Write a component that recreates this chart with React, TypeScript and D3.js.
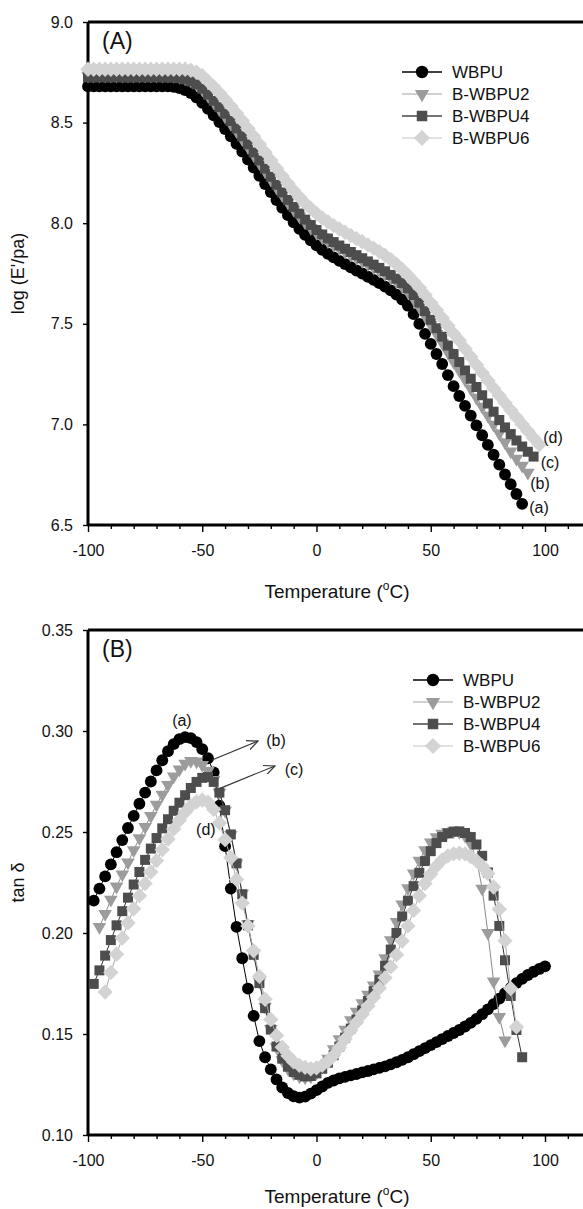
import React, { useEffect, useRef } from 'react';
import * as d3 from 'd3';

// temperature grid (°C) shared by both panels
const temps = [
  -100, -97.5, -95, -92.5, -90, -87.5, -85, -82.5, -80, -77.5,
  -75, -72.5, -70, -67.5, -65, -62.5, -60, -57.5, -55, -52.5,
  -50, -47.5, -45, -42.5, -40, -37.5, -35, -32.5, -30, -27.5,
  -25, -22.5, -20, -17.5, -15, -12.5, -10, -7.5, -5, -2.5,
  0, 2.5, 5, 7.5, 10, 12.5, 15, 17.5, 20, 22.5,
  25, 27.5, 30, 32.5, 35, 37.5, 40, 42.5, 45, 47.5,
  50, 52.5, 55, 57.5, 60, 62.5, 65, 67.5, 70, 72.5,
  75, 77.5, 80, 82.5, 85, 87.5, 90, 92.5, 95, 97.5,
  100,
];

const seriesNames = ['WBPU', 'B-WBPU2', 'B-WBPU4', 'B-WBPU6'];
const curveTags = ['(a)', '(b)', '(c)', '(d)'];

// (A) log(E'/Pa)
const logE_WBPU = [
  8.68, 8.68, 8.68, 8.68, 8.68, 8.68, 8.68, 8.68, 8.68, 8.68,
  8.68, 8.68, 8.68, 8.68, 8.68, 8.678, 8.672, 8.662, 8.647, 8.625,
  8.598, 8.568, 8.536, 8.503, 8.468, 8.432, 8.395, 8.356, 8.316, 8.276,
  8.236, 8.195, 8.155, 8.115, 8.077, 8.04, 8.005, 7.972, 7.942, 7.915,
  7.89, 7.868, 7.848, 7.83, 7.813, 7.797, 7.781, 7.765, 7.75, 7.734,
  7.718, 7.702, 7.685, 7.666, 7.645, 7.62, 7.59, 7.548, 7.5, 7.45,
  7.4, 7.35, 7.3, 7.245, 7.19, 7.141, 7.092, 7.044, 6.995, 6.946,
  6.898, 6.849, 6.8, 6.751, 6.703, 6.654, 6.605,
];
const logE_B2 = [
  8.733, 8.733, 8.733, 8.733, 8.733, 8.733, 8.733, 8.733, 8.733, 8.733,
  8.733, 8.733, 8.733, 8.733, 8.733, 8.732, 8.728, 8.72, 8.708, 8.69,
  8.665, 8.634, 8.6, 8.566, 8.53, 8.494, 8.457, 8.418, 8.378, 8.338,
  8.298, 8.257, 8.217, 8.177, 8.139, 8.102, 8.067, 8.034, 8.004, 7.977,
  7.952, 7.93, 7.91, 7.892, 7.875, 7.859, 7.843, 7.827, 7.812, 7.796,
  7.78, 7.764, 7.747, 7.729, 7.709, 7.686, 7.658, 7.624, 7.583, 7.539,
  7.495, 7.45, 7.405, 7.358, 7.311, 7.268, 7.223, 7.178, 7.133, 7.088,
  7.043, 6.999, 6.955, 6.91, 6.866, 6.83, 6.795, 6.76,
];
const logE_B4 = [
  8.725, 8.725, 8.725, 8.725, 8.725, 8.725, 8.725, 8.725, 8.725, 8.725,
  8.725, 8.725, 8.725, 8.725, 8.725, 8.724, 8.721, 8.715, 8.705, 8.69,
  8.668, 8.639, 8.608, 8.577, 8.544, 8.508, 8.471, 8.432, 8.392, 8.352,
  8.312, 8.271, 8.231, 8.191, 8.153, 8.116, 8.081, 8.048, 8.018, 7.991,
  7.966, 7.944, 7.924, 7.906, 7.889, 7.873, 7.857, 7.841, 7.826, 7.81,
  7.794, 7.778, 7.761, 7.743, 7.724, 7.702, 7.676, 7.643, 7.605, 7.563,
  7.52, 7.478, 7.436, 7.392, 7.35, 7.31, 7.268, 7.227, 7.186, 7.145,
  7.104, 7.063, 7.022, 6.985, 6.952, 6.92, 6.89, 6.864, 6.84,
];
const logE_B6 = [
  8.765, 8.765, 8.765, 8.765, 8.765, 8.765, 8.765, 8.765, 8.765, 8.765,
  8.765, 8.765, 8.765, 8.765, 8.765, 8.765, 8.765, 8.765, 8.76, 8.75,
  8.733, 8.706, 8.678, 8.648, 8.616, 8.582, 8.547, 8.51, 8.471, 8.432,
  8.393, 8.353, 8.313, 8.273, 8.235, 8.198, 8.163, 8.13, 8.1, 8.073,
  8.048, 8.026, 8.006, 7.988, 7.971, 7.955, 7.939, 7.923, 7.908, 7.892,
  7.876, 7.859, 7.84, 7.819, 7.796, 7.77, 7.742, 7.712, 7.68, 7.644,
  7.605, 7.568, 7.53, 7.491, 7.452, 7.417, 7.376, 7.336, 7.296, 7.257,
  7.218, 7.18, 7.143, 7.107, 7.071, 7.036, 7.001, 6.967, 6.933, 6.9,
];

// (B) tan delta
const tan_WBPU = [
  null, 0.216, 0.222, 0.228, 0.234, 0.24, 0.246, 0.252, 0.258, 0.264,
  0.2695, 0.275, 0.2805, 0.2855, 0.29, 0.2935, 0.296, 0.297, 0.2965, 0.2945,
  0.291, 0.2865, 0.2795, 0.263, 0.243, 0.222, 0.203, 0.1875, 0.1725, 0.159,
  0.1465, 0.1385, 0.1325, 0.1275, 0.1235, 0.1208, 0.1192, 0.1185, 0.119, 0.1205,
  0.1222, 0.124, 0.1258, 0.127, 0.128, 0.1288, 0.1295, 0.1302, 0.131, 0.1317,
  0.1325, 0.1332, 0.134, 0.135, 0.136, 0.1372, 0.1385, 0.14, 0.1415, 0.143,
  0.1445, 0.146, 0.1475, 0.149, 0.1505, 0.152, 0.1537, 0.1555, 0.1575, 0.1598,
  0.1622, 0.1648, 0.1675, 0.1702, 0.1728, 0.1752, 0.1773, 0.1792, 0.1808, 0.1822,
  0.1835,
];
const tan_B2 = [
  null, null, 0.203, 0.2095, 0.2165, 0.223, 0.229, 0.235, 0.241, 0.247,
  0.2525, 0.258, 0.2635, 0.2685, 0.2733, 0.2775, 0.281, 0.2838, 0.2852, 0.285,
  0.2832, 0.2802, 0.2758, 0.2695, 0.2605, 0.2485, 0.2345, 0.2195, 0.2045, 0.19,
  0.176, 0.1635, 0.1525, 0.1435, 0.137, 0.1328, 0.1305, 0.129, 0.1285, 0.129,
  0.1308, 0.1338, 0.1378, 0.1425, 0.1475, 0.1522, 0.1568, 0.161, 0.1652, 0.1695,
  0.174, 0.1795, 0.1875, 0.1965, 0.2055, 0.2142, 0.2222, 0.2295, 0.2358, 0.241,
  0.2448, 0.2475, 0.2492, 0.25, 0.2503, 0.25, 0.2482, 0.2442, 0.2365, 0.222,
  0.2, 0.176, 0.1585, 0.1468,
];
const tan_B4 = [
  null, 0.1748, 0.1815, 0.1888, 0.1965, 0.2038, 0.2108, 0.2175, 0.224, 0.2302,
  0.2362, 0.2418, 0.247, 0.2518, 0.2563, 0.2605, 0.2645, 0.2682, 0.2718, 0.2748,
  0.2768, 0.2772, 0.2748, 0.2695, 0.2608, 0.2488, 0.2345, 0.2192, 0.2038, 0.1892,
  0.1752, 0.1628, 0.1522, 0.1438, 0.1378, 0.1338, 0.1312, 0.1298, 0.129, 0.1292,
  0.1305, 0.1328, 0.1358, 0.1395, 0.1438, 0.1482, 0.1527, 0.1572, 0.1617, 0.1663,
  0.1712, 0.1768, 0.1838, 0.1918, 0.2, 0.2082, 0.216, 0.2232, 0.2298, 0.2356,
  0.2405, 0.2445, 0.2475, 0.2493, 0.2502, 0.2503, 0.2495, 0.2475, 0.2438, 0.2382,
  0.23, 0.2185, 0.2035, 0.1865, 0.1688, 0.152, 0.1385,
];
const tan_B6 = [
  null, null, null, 0.1708, 0.1805, 0.1895, 0.1975, 0.205, 0.212, 0.2185,
  0.2245, 0.2302, 0.2358, 0.2412, 0.2465, 0.2515, 0.2558, 0.2598, 0.263, 0.265,
  0.2658, 0.2648, 0.2612, 0.2545, 0.2462, 0.2372, 0.2265, 0.2148, 0.2035, 0.1912,
  0.1785, 0.1672, 0.1572, 0.1492, 0.1435, 0.1392, 0.1362, 0.1345, 0.1335, 0.1328,
  0.1332, 0.1345, 0.1365, 0.1395, 0.1432, 0.1475, 0.1518, 0.1558, 0.1598, 0.1638,
  0.1682, 0.1728, 0.1778, 0.1832, 0.1892, 0.196, 0.2035, 0.2112, 0.2185, 0.2245,
  0.2292, 0.2332, 0.2362, 0.2382, 0.2392, 0.2395, 0.2392, 0.2378, 0.2358, 0.2332,
  0.2295, 0.2228, 0.2118, 0.1962, 0.1725, 0.1535,
];

const xMajorTicks = [-100, -50, 0, 50, 100];
const xMinorTicks = [-90, -80, -70, -60, -40, -30, -20, -10, 10, 20, 30, 40, 60, 70, 80, 90, 110];
const yTicksA = [6.5, 7.0, 7.5, 8.0, 8.5, 9.0];
const yTicksB = [0.1, 0.15, 0.2, 0.25, 0.3, 0.35];

// where the (a)..(d) tags sit, in data units
const tagsA = [
  { t: 97.4, v: 6.585 },
  { t: 97.8, v: 6.709 },
  { t: 102.2, v: 6.813 },
  { t: 103.5, v: 6.937 },
];
const tagsB = [
  { t: -58.9, v: 0.3054 },
  { t: -17.7, v: 0.2955 },
  { t: -9.8, v: 0.2812 },
  { t: -48.4, v: 0.2515 },
];
const arrowsB = [
  { t0: -45.7, v0: 0.2856, t1: -25.6, v1: 0.295 },
  { t0: -42.2, v0: 0.2716, t1: -18.2, v1: 0.2827 },
];

const FONT = "'Liberation Sans', Arial, sans-serif";

const styles = [
  { shape: d3.symbolCircle, size: 110, rotate: 0, fill: '#000000', line: '#000000', legendLine: '#000000' },
  { shape: d3.symbolTriangle, size: 80, rotate: 180, fill: '#9c9c9c', line: '#8a8a8a', legendLine: '#c2c2c2' },
  { shape: d3.symbolSquare, size: 100, rotate: 0, fill: '#4d4d4d', line: '#333333', legendLine: '#444444' },
  { shape: d3.symbolSquare, size: 118, rotate: 45, fill: '#d3d3d3', line: '#aaaaaa', legendLine: '#d8d8d8' },
];

const drawPanel = (svg, x, cfg) => {
  const { y, top, bottom, series, yTicks, fmt, yTitle, panel, legX, legY, titleY, tags } = cfg;
  const g = svg.append('g');
  const right = 583;

  // frame
  g.append('line').attr('x1', 88).attr('x2', right).attr('y1', top).attr('y2', top)
    .attr('stroke', '#000').attr('stroke-width', 3);
  g.append('line').attr('x1', 88).attr('x2', 88).attr('y1', top).attr('y2', bottom)
    .attr('stroke', '#000').attr('stroke-width', 3);
  g.append('line').attr('x1', 88).attr('x2', right).attr('y1', bottom).attr('y2', bottom)
    .attr('stroke', '#000').attr('stroke-width', 3);

  // x axis
  const xMaj = g.append('g').attr('transform', `translate(0,${bottom})`)
    .call(d3.axisBottom(x).tickValues(xMajorTicks).tickSize(7).tickPadding(13).tickFormat((d) => String(d)));
  const xMin = g.append('g').attr('transform', `translate(0,${bottom})`)
    .call(d3.axisBottom(x).tickValues(xMinorTicks).tickSize(4).tickFormat(() => ''));
  // y axis
  const yAx = g.append('g').attr('transform', 'translate(88,0)')
    .call(d3.axisLeft(y).tickValues(yTicks).tickSize(5).tickPadding(10).tickFormat(d3.format(fmt)));
  [xMaj, xMin, yAx].forEach((a) => {
    a.select('.domain').remove();
    a.selectAll('line').attr('stroke', '#000').attr('stroke-width', 1.4);
    a.selectAll('text').attr('font-family', FONT).attr('font-size', 16).attr('fill', '#111');
  });

  // titles
  const tt = g.append('text').attr('x', 337).attr('y', titleY).attr('text-anchor', 'middle')
    .attr('font-family', FONT).attr('font-size', 19).attr('fill', '#111');
  tt.append('tspan').text('Temperature (');
  tt.append('tspan').attr('font-size', 12).attr('dy', -8).text('o');
  tt.append('tspan').attr('dy', 8).text('C)');

  g.append('text').attr('transform', `translate(24,${(top + bottom) / 2}) rotate(-90)`)
    .attr('text-anchor', 'middle').attr('font-family', FONT).attr('font-size', 18).attr('fill', '#111')
    .text(yTitle);

  g.append('text').attr('x', 102).attr('y', top + 27).attr('font-family', FONT).attr('font-size', 23)
    .attr('fill', '#111').text(panel);

  // series (first drawn lies at the bottom)
  const line = d3.line().x((d) => x(d.t)).y((d) => y(d.v));
  series.forEach((vals, i) => {
    const st = styles[i];
    const pts = temps.map((t, k) => ({ t, v: vals[k] })).filter((d) => d.v !== null && d.v !== undefined);
    g.append('path').datum(pts).attr('d', line).attr('fill', 'none')
      .attr('stroke', st.line).attr('stroke-width', 1);
    g.append('g').selectAll('path').data(pts).enter().append('path')
      .attr('d', d3.symbol().type(st.shape).size(st.size))
      .attr('transform', (d) => `translate(${x(d.t)},${y(d.v)}) rotate(${st.rotate})`)
      .attr('fill', st.fill);
  });

  // tags
  tags.forEach((p, i) => {
    g.append('text').attr('x', x(p.t)).attr('y', y(p.v)).attr('dy', '0.35em').attr('text-anchor', 'middle')
      .attr('font-family', FONT).attr('font-size', 16).attr('fill', '#111').text(curveTags[i]);
  });

  // legend
  const leg = g.append('g').attr('transform', `translate(${legX},${legY})`);
  seriesNames.forEach((name, i) => {
    const st = styles[i];
    const row = leg.append('g').attr('transform', `translate(0,${i * 22})`);
    row.append('line').attr('x1', 0).attr('x2', 40).attr('stroke', st.legendLine).attr('stroke-width', 1.5);
    row.append('path').attr('d', d3.symbol().type(st.shape).size(st.size * 1.1))
      .attr('transform', `translate(20,0) rotate(${st.rotate})`).attr('fill', st.fill);
    row.append('text').attr('x', 50).attr('dy', '0.35em').attr('font-family', FONT).attr('font-size', 17)
      .attr('fill', '#111').text(name);
  });
  return g;
};

const App = () => {
  const ref = useRef(null);

  useEffect(() => {
    const svg = d3.select(ref.current);
    svg.selectAll('*').remove();

    svg.append('defs').append('marker').attr('id', 'arrowHead')
      .attr('viewBox', '0 0 12 10').attr('refX', 11).attr('refY', 5)
      .attr('markerWidth', 12).attr('markerHeight', 10).attr('markerUnits', 'userSpaceOnUse')
      .attr('orient', 'auto')
      .append('path').attr('d', 'M0,0 L11,5 L0,10').attr('fill', 'none')
      .attr('stroke', '#333').attr('stroke-width', 1.2);

    const x = d3.scaleLinear().domain([-100, 120]).range([88, 88 + 220 * 2.285]);

    drawPanel(svg, x, {
      y: d3.scaleLinear().domain([6.5, 9.0]).range([525, 22]),
      top: 22, bottom: 525,
      series: [logE_WBPU, logE_B2, logE_B4, logE_B6],
      yTicks: yTicksA, fmt: '.1f', yTitle: "log (E'/pa)", panel: '(A)',
      legX: 402, legY: 72, titleY: 598, tags: tagsA,
    });

    const yB = d3.scaleLinear().domain([0.1, 0.35]).range([1135, 630]);
    const gB = drawPanel(svg, x, {
      y: yB,
      top: 630, bottom: 1135,
      series: [tan_WBPU, tan_B2, tan_B4, tan_B6],
      yTicks: yTicksB, fmt: '.2f', yTitle: 'tan δ', panel: '(B)',
      legX: 413, legY: 680, titleY: 1203, tags: tagsB,
    });
    arrowsB.forEach((a) => {
      gB.append('line').attr('x1', x(a.t0)).attr('y1', yB(a.v0)).attr('x2', x(a.t1)).attr('y2', yB(a.v1))
        .attr('stroke', '#333').attr('stroke-width', 1.1).attr('marker-end', 'url(#arrowHead)');
    });
  }, []);

  return (
    <svg ref={ref} width={583} height={1209}
      style={{ position: 'absolute', left: 0, top: 0, background: '#fff' }} />
  );
};

export default App;
